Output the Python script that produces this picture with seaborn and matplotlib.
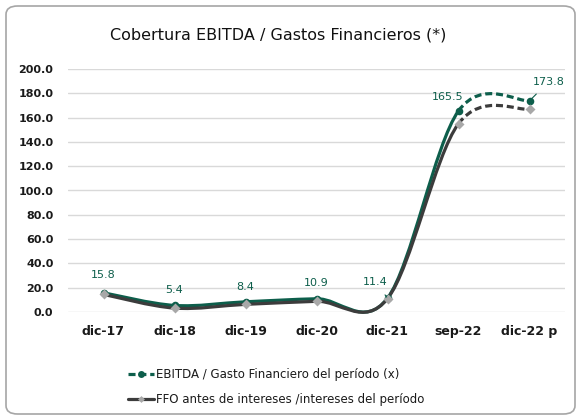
"""
Cobertura EBITDA / Gastos Financieros - line chart with smoothed series.
"""
# Third-party
import matplotlib.pyplot as plt
import pandas as pd
import seaborn as sns
from matplotlib.lines import Line2D
from matplotlib.patches import FancyBboxPatch, PathPatch
from matplotlib.path import Path

# Data
PERIODS = ["dic-17", "dic-18", "dic-19", "dic-20", "dic-21", "sep-22", "dic-22 p"]
EBITDA = [15.8, 5.4, 8.4, 10.9, 11.4, 165.5, 173.8]
FFO = [14.5, 3.2, 6.3, 8.8, 11.0, 155.0, 167.0]
Y_TICKS = [0, 20, 40, 60, 80, 100, 120, 140, 160, 180, 200]

EBITDA_LABEL = "EBITDA / Gasto Financiero del período (x)"
FFO_LABEL = "FFO antes de intereses /intereses del período"

GREEN = "#0d5e4b"
DARK_GRAY = "#3c3c3c"
LIGHT_GRAY = "#a8a8a8"


def smooth_segments(xs, ys):
    """
    Bezier control points in the style of a spreadsheet "smoothed line".
    Returns a list of (p0, c1, c2, p1) per segment.
    """
    n = len(xs)
    segs = []
    for i in range(n - 1):
        x0, y0 = xs[i], ys[i]
        x1, y1 = xs[i + 1], ys[i + 1]
        xp, yp = (xs[i - 1], ys[i - 1]) if i > 0 else (x0, y0)
        xn, yn = (xs[i + 2], ys[i + 2]) if i + 2 < n else (x1, y1)
        c1 = (x0 + (x1 - xp) / 6, y0 + (y1 - yp) / 6)
        c2 = (x1 - (xn - x0) / 6, y1 - (yn - y0) / 6)
        segs.append(((x0, y0), c1, c2, (x1, y1)))
    return segs


def bezier_path(segs):
    verts = [segs[0][0]]
    codes = [Path.MOVETO]
    for _, c1, c2, p1 in segs:
        verts += [c1, c2, p1]
        codes += [Path.CURVE4] * 3
    return Path(verts, codes)


def draw_series(ax, values, color, zorder):
    xs = list(range(len(values)))
    segs = smooth_segments(xs, values)
    solid = bezier_path(segs[:-1])
    dashed = bezier_path(segs[-1:])
    for path, style in ((solid, "solid"), (dashed, (0, (2.2, 1.2)))):
        ax.add_patch(
            PathPatch(
                path,
                fill=False,
                edgecolor=color,
                linewidth=2.3,
                linestyle=style,
                capstyle="butt",
                zorder=zorder,
                clip_on=False,
            )
        )


sns.set_theme(style="white")
plt.rcParams["font.family"] = ["DejaVu Sans"]

fig = plt.figure(figsize=(5.81, 4.19), dpi=100)
ax = fig.add_axes([68 / 581, 1 - 312 / 419, 497 / 581, 243 / 419])

data = pd.DataFrame({"Periodo": PERIODS, "EBITDA": EBITDA, "FFO": FFO})

draw_series(ax, EBITDA, GREEN, 3)
draw_series(ax, FFO, DARK_GRAY, 4)

sns.scatterplot(
    data=data, x="Periodo", y="EBITDA", ax=ax, color=GREEN, marker="o",
    s=30, linewidth=0, zorder=5, clip_on=False,
)
sns.scatterplot(
    data=data, x="Periodo", y="FFO", ax=ax, color=LIGHT_GRAY, marker="D",
    s=26, linewidth=0, zorder=6, clip_on=False,
)

ax.set_xlim(-0.5, len(PERIODS) - 0.5)
ax.set_ylim(0, 200)
ax.set_yticks(Y_TICKS)
ax.set_yticklabels([f"{v:.1f}" for v in Y_TICKS])
ax.yaxis.grid(True, color="#d9d9d9", linewidth=1)
ax.xaxis.grid(False)
for spine in ax.spines.values():
    spine.set_visible(False)
ax.tick_params(axis="y", labelsize=8, pad=10.5, length=0)
ax.tick_params(axis="x", labelsize=9, pad=9, length=0)
for lbl in ax.get_yticklabels() + ax.get_xticklabels():
    lbl.set_fontweight("bold")
    lbl.set_color("#1a1a1a")
ax.set_xlabel("")
ax.set_ylabel("")

# Data labels (offsets in pixels) for the EBITDA series
offsets = [(0, 18), (0, 15), (0, 15), (0, 16), (-12, 16), (-11, 14), (19, 19)]
leaders = [False, False, False, False, True, True, True]
for i, (val, off, lead) in enumerate(zip(EBITDA, offsets, leaders)):
    ax.annotate(
        f"{val:.1f}",
        (i, val),
        xytext=off,
        textcoords="offset pixels",
        ha="center",
        va="center",
        fontsize=8,
        color=GREEN,
        zorder=7,
        annotation_clip=False,
        arrowprops=dict(arrowstyle="-", color=GREEN, lw=0.8, shrinkA=4,
                        shrinkB=1) if lead else None,
    )

fig.text(
    0.478, 1 - 35 / 419, "Cobertura EBITDA / Gastos Financieros (*)",
    ha="center", va="center", fontsize=11.5, color="#111111",
)

handles = [
    Line2D([], [], color=GREEN, linewidth=2.3, linestyle=(0, (2.2, 1.2)),
           marker="o", markersize=5, markeredgewidth=0),
    Line2D([], [], color=DARK_GRAY, linewidth=2.3, marker="D",
           markersize=3.5, markerfacecolor=LIGHT_GRAY, markeredgewidth=0),
]
fig.legend(
    handles, [EBITDA_LABEL, FFO_LABEL],
    loc="center left", bbox_to_anchor=(117 / 581, 1 - 387 / 419),
    frameon=False, fontsize=8.5, handlelength=2.2, handletextpad=0.2,
    labelspacing=1.0, labelcolor="#1a1a1a",
)

# Rounded outer border of the chart area
fig.patches.append(
    FancyBboxPatch(
        (6 / 581, 5 / 419), 569 / 581, 408 / 419,
        boxstyle="round,pad=0,rounding_size=0.02",
        transform=fig.transFigure, facecolor="none",
        edgecolor="#a6a6a6", linewidth=1.2,
    )
)

fig.savefig("out.png", dpi=100)
